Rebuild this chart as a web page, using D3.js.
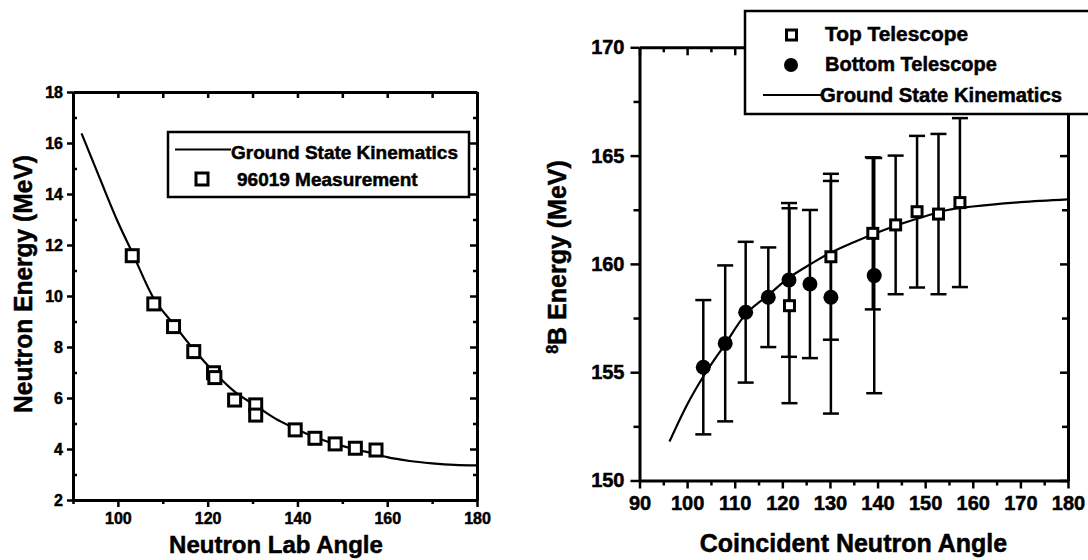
<!DOCTYPE html>
<html>
<head>
<meta charset="utf-8">
<script src="https://cdn.jsdelivr.net/npm/d3@7"></script>
<style>
  html, body { margin: 0; padding: 0; background: #fff; }
  svg { display: block; }
  text { font-family: "Liberation Sans", Arial, Helvetica, sans-serif; font-weight: bold; fill: #000;
         stroke: #000; stroke-width: 0.5px; }
</style>
</head>
<body>
<svg id="chart" width="1088" height="560"></svg>
<script>
// ---- Left panel: neutron energy vs. neutron lab angle ----
const measAngle  = [103.2, 108.0, 112.4, 116.9, 121.3, 121.6, 126.0, 130.7, 130.7, 139.5, 143.9, 148.4, 152.9, 157.5];
const measEnergy = [11.58, 9.69, 8.80, 7.82, 6.99, 6.80, 5.92, 5.73, 5.33, 4.75, 4.42, 4.20, 4.03, 3.96];
const kinAngleL  = [91.9, 96, 100, 103.2, 108, 112.4, 116.9, 121.5, 126, 130.7, 135, 139.5, 144, 148.4, 153, 157.5, 160, 165, 170, 175, 180];
const kinEnergyL = [16.38, 14.6, 12.9, 11.7, 9.9, 8.9, 7.9, 7.0, 6.25, 5.7, 5.2, 4.8, 4.45, 4.2, 3.98, 3.8, 3.68, 3.53, 3.44, 3.38, 3.36];
const labAngleTicks = [100, 120, 140, 160, 180];
const labAngleMinor = [90, 110, 130, 150, 170];
const energyTicksL  = [2, 4, 6, 8, 10, 12, 14, 16, 18];
const energyMinorL  = [3, 5, 7, 9, 11, 13, 15, 17];

// ---- Right panel: 8B energy vs. coincident neutron angle ----
const topAngle  = [121.5, 130.2, 139.0, 143.8, 148.3, 152.8, 157.3];
const topEnergy = [158.07, 160.33, 161.41, 161.8, 162.41, 162.3, 162.83];
const topErr    = [4.5, 3.83, 3.51, 3.2, 3.5, 3.7, 3.9];
const botAngle  = [103.4, 108.0, 112.3, 117.05, 121.4, 125.8, 130.2, 139.3];
const botEnergy = [155.23, 156.33, 157.77, 158.46, 159.26, 159.07, 158.46, 159.46];
const botErr    = [3.1, 3.6, 3.25, 2.3, 3.55, 3.42, 5.37, 5.43];
const kinAngleR  = [96.3, 100, 103.4, 108, 112, 117, 121, 126, 130, 135, 140, 145, 150, 155, 160, 170, 180];
const kinEnergyR = [151.8, 153.5, 154.8, 156.3, 157.6, 158.55, 159.3, 160.0, 160.5, 161.0, 161.45, 161.85, 162.2, 162.5, 162.65, 162.85, 162.98];
const coincAngleTicks = [90, 100, 110, 120, 130, 140, 150, 160, 170, 180];
const coincAngleMinor = [95, 105, 115, 125, 135, 145, 155, 165, 175];
const energyTicksR = [150, 155, 160, 165, 170];
const energyMinorR = [152.5, 157.5, 162.5, 167.5];

const FONT = '"Liberation Sans", Arial, Helvetica, sans-serif';
const svg = d3.select("#chart");

function addAxis(gen, tx, ty, fs) {
  const g = svg.append("g").attr("transform", `translate(${tx},${ty})`).call(gen);
  g.attr("font-family", FONT).attr("font-weight", "bold").attr("font-size", fs || 10);
  g.select(".domain").attr("stroke", "#000").attr("stroke-width", 3);
  g.selectAll(".tick line").attr("stroke", "#000").attr("stroke-width", 2.5);
  g.selectAll(".tick text").attr("fill", "#000");
  return g;
}
function noDomain(g) { g.select(".domain").remove(); return g; }

const zip = (a, b) => a.map((v, i) => [v, b[i]]);

// ================= Left panel =================
const xL = d3.scaleLinear().domain([90, 180]).range([73, 477]);
const yL = d3.scaleLinear().domain([2, 18]).range([500, 92]);

addAxis(d3.axisBottom(xL).tickValues(labAngleTicks).tickSize(7).tickSizeOuter(0).tickPadding(6), 0, 500, 16);
noDomain(addAxis(d3.axisBottom(xL).tickValues(labAngleMinor).tickSize(4).tickFormat(""), 0, 500));
addAxis(d3.axisTop(xL).tickValues(labAngleTicks.concat(labAngleMinor)).tickSize(-6).tickSizeOuter(0).tickFormat(""), 0, 92);
addAxis(d3.axisLeft(yL).tickValues(energyTicksL).tickSize(6).tickSizeOuter(0).tickPadding(4), 73, 0, 16);
noDomain(addAxis(d3.axisLeft(yL).tickValues(energyMinorL).tickSize(-4).tickFormat(""), 73, 0));
addAxis(d3.axisRight(yL).tickValues(energyTicksL).tickSize(-7).tickSizeOuter(0).tickFormat(""), 477, 0);
noDomain(addAxis(d3.axisRight(yL).tickValues(energyMinorL).tickSize(-4).tickFormat(""), 477, 0));

const lineL = d3.line().x(d => xL(d[0])).y(d => yL(d[1])).curve(d3.curveMonotoneX);
svg.append("path").datum(zip(kinAngleL, kinEnergyL))
  .attr("d", lineL).attr("fill", "none").attr("stroke", "#000").attr("stroke-width", 2.2);

const sqL = 12;
svg.append("g").selectAll("rect").data(zip(measAngle, measEnergy)).join("rect")
  .attr("x", d => xL(d[0]) - sqL / 2).attr("y", d => yL(d[1]) - sqL / 2)
  .attr("width", sqL).attr("height", sqL)
  .attr("fill", "#fff").attr("stroke", "#000").attr("stroke-width", 3);

// legend
const legL = svg.append("g");
legL.append("rect").attr("x", 168).attr("y", 132).attr("width", 301).attr("height", 65)
  .attr("fill", "#fff").attr("stroke", "#000").attr("stroke-width", 2.5);
legL.append("line").attr("x1", 175).attr("x2", 231).attr("y1", 149.5).attr("y2", 149.5)
  .attr("stroke", "#000").attr("stroke-width", 2.2);
legL.append("text").attr("x", 231).attr("y", 159).attr("font-size", 19).text("Ground State Kinematics");
legL.append("rect").attr("x", 202 - 6).attr("y", 179 - 6).attr("width", 12).attr("height", 12)
  .attr("fill", "#fff").attr("stroke", "#000").attr("stroke-width", 3);
legL.append("text").attr("x", 237).attr("y", 186).attr("font-size", 19).text("96019 Measurement");

svg.append("text").attr("x", 276).attr("y", 553).attr("text-anchor", "middle")
  .attr("font-size", 24).text("Neutron Lab Angle");
svg.append("text").attr("transform", "translate(32,284) rotate(-90)").attr("text-anchor", "middle")
  .attr("font-size", 25).attr("textLength", 258).attr("lengthAdjust", "spacingAndGlyphs")
  .text("Neutron Energy (MeV)");

// ================= Right panel =================
const xR = d3.scaleLinear().domain([90, 180]).range([639.5, 1068]);
const yR = d3.scaleLinear().domain([150, 170]).range([480.5, 47.3]);

addAxis(d3.axisBottom(xR).tickValues(coincAngleTicks).tickSize(8).tickSizeOuter(0).tickPadding(7), 0, 480.5, 20);
noDomain(addAxis(d3.axisBottom(xR).tickValues(coincAngleMinor).tickSize(5).tickFormat(""), 0, 480.5));
addAxis(d3.axisTop(xR).tickValues(coincAngleTicks).tickSize(-8).tickSizeOuter(0).tickFormat(""), 0, 47.3);
noDomain(addAxis(d3.axisTop(xR).tickValues(coincAngleMinor).tickSize(-5).tickFormat(""), 0, 47.3));
addAxis(d3.axisLeft(yR).tickValues(energyTicksR).tickSize(9).tickSizeOuter(0).tickPadding(6), 639.5, 0, 20);
noDomain(addAxis(d3.axisLeft(yR).tickValues(energyMinorR).tickSize(6).tickFormat(""), 639.5, 0));
addAxis(d3.axisRight(yR).tickValues(energyTicksR).tickSize(-8).tickSizeOuter(0).tickFormat(""), 1068, 0);
noDomain(addAxis(d3.axisRight(yR).tickValues(energyMinorR).tickSize(-6).tickFormat(""), 1068, 0));

const lineR = d3.line().x(d => xR(d[0])).y(d => yR(d[1])).curve(d3.curveMonotoneX);
svg.append("path").datum(zip(kinAngleR, kinEnergyR))
  .attr("d", lineR).attr("fill", "none").attr("stroke", "#000").attr("stroke-width", 2.2);

function errorBars(angles, vals, errs) {
  const g = svg.append("g").attr("stroke", "#000").attr("stroke-width", 2.5).attr("fill", "none");
  angles.forEach((a, i) => {
    const x = xR(a), y1 = yR(vals[i] + errs[i]), y0 = yR(vals[i] - errs[i]);
    g.append("line").attr("x1", x).attr("x2", x).attr("y1", y1).attr("y2", y0);
    g.append("line").attr("x1", x - 8).attr("x2", x + 8).attr("y1", y1).attr("y2", y1);
    g.append("line").attr("x1", x - 8).attr("x2", x + 8).attr("y1", y0).attr("y2", y0);
  });
}
errorBars(botAngle, botEnergy, botErr);
errorBars(topAngle, topEnergy, topErr);

svg.append("g").selectAll("circle").data(zip(botAngle, botEnergy)).join("circle")
  .attr("cx", d => xR(d[0])).attr("cy", d => yR(d[1])).attr("r", 7.5).attr("fill", "#000");

const sqR = 10;
svg.append("g").selectAll("rect").data(zip(topAngle, topEnergy)).join("rect")
  .attr("x", d => xR(d[0]) - sqR / 2).attr("y", d => yR(d[1]) - sqR / 2)
  .attr("width", sqR).attr("height", sqR)
  .attr("fill", "#fff").attr("stroke", "#000").attr("stroke-width", 3);

// legend box sits over the top-right corner of the frame
const legR = svg.append("g");
legR.append("rect").attr("x", 745).attr("y", 11).attr("width", 400).attr("height", 103)
  .attr("fill", "#fff").attr("stroke", "#000").attr("stroke-width", 2.5);
legR.append("rect").attr("x", 791.5 - 5).attr("y", 35 - 5).attr("width", 10).attr("height", 10)
  .attr("fill", "#fff").attr("stroke", "#000").attr("stroke-width", 3);
legR.append("text").attr("x", 825).attr("y", 41).attr("font-size", 20)
  .attr("textLength", 143).attr("lengthAdjust", "spacingAndGlyphs").text("Top Telescope");
legR.append("circle").attr("cx", 791).attr("cy", 65).attr("r", 7).attr("fill", "#000");
legR.append("text").attr("x", 825).attr("y", 71).attr("font-size", 20).text("Bottom Telescope");
legR.append("line").attr("x1", 763).attr("x2", 821).attr("y1", 95).attr("y2", 95)
  .attr("stroke", "#000").attr("stroke-width", 2.2);
legR.append("text").attr("x", 820).attr("y", 101.5).attr("font-size", 20)
  .attr("textLength", 242).attr("lengthAdjust", "spacingAndGlyphs").text("Ground State Kinematics");

svg.append("text").attr("x", 853.5).attr("y", 552).attr("text-anchor", "middle")
  .attr("font-size", 25).text("Coincident Neutron Angle");
const yt = svg.append("text").attr("transform", "translate(566,257) rotate(-90)")
  .attr("text-anchor", "middle").attr("font-size", 25);
yt.append("tspan").attr("font-size", 16).attr("dy", -8).text("8");
yt.append("tspan").attr("dy", 8).text("B Energy (MeV)");
</script>
</body>
</html>
